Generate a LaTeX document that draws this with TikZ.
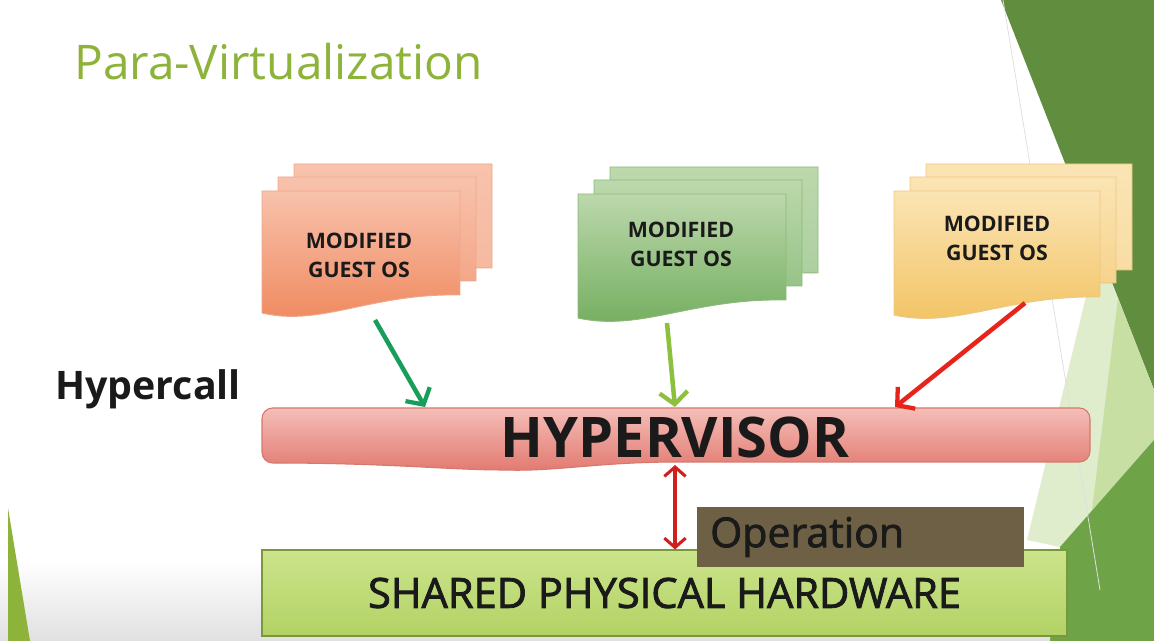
\documentclass[tikz,border=0pt]{standalone}
\usepackage{fontspec}
\setmainfont{Open Sans}
\newfontfamily\medfont[FakeBold=2]{Open Sans}
\usetikzlibrary{arrows.meta,calc}

\definecolor{titlegreen}{RGB}{141,179,58}
\definecolor{decodark}{RGB}{96,141,62}
\definecolor{decolow}{RGB}{110,163,72}
\definecolor{decolight}{RGB}{224,237,204}
\definecolor{decomid}{RGB}{200,223,164}
\definecolor{orangetop}{RGB}{248,194,172}
\definecolor{orangebot}{RGB}{239,135,92}
\definecolor{orangeline}{RGB}{236,168,140}
\definecolor{greentop}{RGB}{188,216,172}
\definecolor{greenbot}{RGB}{112,172,92}
\definecolor{greenline}{RGB}{140,186,120}
\definecolor{yellowtop}{RGB}{251,228,180}
\definecolor{yellowbot}{RGB}{242,194,96}
\definecolor{yellowline}{RGB}{236,200,130}
\definecolor{hyptop}{RGB}{244,190,184}
\definecolor{hypbot}{RGB}{226,122,112}
\definecolor{hypline}{RGB}{214,120,110}
\definecolor{hwtop}{RGB}{204,228,140}
\definecolor{hwbot}{RGB}{178,210,100}
\definecolor{hwline}{RGB}{122,152,58}
\definecolor{opfill}{RGB}{110,96,68}
\definecolor{callgreen}{RGB}{24,158,90}
\definecolor{callolive}{RGB}{140,192,62}
\definecolor{callred}{RGB}{230,36,28}
\definecolor{duplexred}{RGB}{208,32,30}
\definecolor{ink}{RGB}{26,26,26}

% one sheet of a guest OS stack: left, top, width, height, colour, shade
\newcommand{\ossheet}[6]{%
  \path[draw=#5line, line width=0.7pt, top color=#5top, bottom color=#5bot!#6!white]
    (#1,#2) -- ({#1+#3},#2) -- ({#1+#3},{#2+#4})
    .. controls ({#1+0.55*#3},{#2+#4-2}) and ({#1+0.3*#3},{#2+#4+32}) .. (#1,{#2+#4+18}) -- cycle;}
\newcommand{\osstack}[5]{%
  \ossheet{#1+32}{#2-27}{#3}{#4}{#5}{60}
  \ossheet{#1+16}{#2-14}{#3}{#4}{#5}{80}
  \ossheet{#1}{#2}{#3}{#4}{#5}{100}}

\begin{document}
\begin{tikzpicture}[x=0.75pt,y=-0.75pt,
    ostext/.style={align=center, text=ink, font=\fontsize{16}{21.75}\selectfont\bfseries},
    hwbox/.style={draw=hwline, line width=0.8pt, top color=hwtop, bottom color=hwbot,
      minimum width=603.75pt, minimum height=64.5pt, text=ink, font=\fontsize{31.2}{36}\medfont},
    opbox/.style={fill=opfill, minimum height=45pt, text width=225.75pt, inner xsep=9.75pt,
      align=left, text=ink, font=\fontsize{30.8}{36}\medfont},
    call/.style={line width=3.4pt, -{Straight Barb[length=9pt,width=21pt,line width=3.2pt]}},
    duplex/.style={draw=duplexred, line width=2.5pt,
      {Straight Barb[length=7pt,width=16pt,line width=2.3pt]}-{Straight Barb[length=7pt,width=16pt,line width=2.3pt]}}]
  \useasboundingbox (0,0) rectangle (1154,641);
  \shade[top color=white, bottom color=black!12] (0,560) rectangle (1154,641);

  % slide decoration
  \fill[decodark] (1001,0) -- (1154,0) -- (1154,390) -- cycle;
  \fill[decolight] (1098,247) -- (1154,390) -- (1154,440) -- (1060,547) -- (1027,540) -- cycle;
  \fill[decomid] (1118,298) -- (1154,390) -- (1154,440) -- (1092,510) -- cycle;
  \fill[decolow] (1154,440) -- (1154,641) -- (1050,641) -- (1060,547) -- cycle;
  \draw[black!12, line width=0.6pt] (1003,0) -- (1100,590);
  \fill[titlegreen] (8,508) -- (30,641) -- (8,641) -- cycle;

  \node[anchor=base west, inner sep=0pt, text=titlegreen, font=\fontsize{35.8}{42}\selectfont]
    (title) at (74,80) {Para-Virtualization};
  \node[anchor=base west, inner sep=0pt, text=ink, font=\fontsize{29.5}{34}\selectfont\bfseries]
    (hypercall) at (55,400) {Hypercall};

  \osstack{262}{191}{198}{104}{orange}
  \osstack{578}{194}{208}{106}{green}
  \osstack{894}{191}{206}{106}{yellow}
  \node[ostext] (os1) at (359,255) {MODIFIED\\GUEST OS};
  \node[ostext] (os2) at (681,244) {MODIFIED\\GUEST OS};
  \node[ostext] (os3) at (997,238) {MODIFIED\\GUEST OS};

  \path[draw=hypline, line width=0.8pt, top color=hyptop, bottom color=hypbot, rounded corners=8pt]
    (262,408) -- (1090,408) -- (1090,462) -- (690,462)
    .. controls (600,462) and (560,471) .. (500,470)
    .. controls (440,469) and (380,463) .. (262,463) -- cycle;
  \node[text=ink, font=\fontsize{42}{50}\selectfont\bfseries] (hyp) at (675,437) {HYPERVISOR};

  \node[hwbox] (hw) at (664.5,593) {SHARED PHYSICAL HARDWARE};
  \node[opbox, anchor=west] (op) at (697,537) {Operation};

  \coordinate (os1-out) at (375,320);
  \coordinate (os2-out) at (667,323);
  \coordinate (os3-out) at (1025,303);
  \coordinate (hyp-in1) at (425,407);
  \coordinate (hyp-in2) at (675,407);
  \coordinate (hyp-in3) at (895,407);
  \coordinate (hyp-low) at (675,465);
  \draw[call, callgreen] (os1-out) -- (hyp-in1);
  \draw[call, callolive] (os2-out) -- (hyp-in2);
  \draw[call, callred] (os3-out) -- (hyp-in3);
  \draw[duplex] (hyp-low) -- (hyp-low |- hw.north);
\end{tikzpicture}
\end{document}
